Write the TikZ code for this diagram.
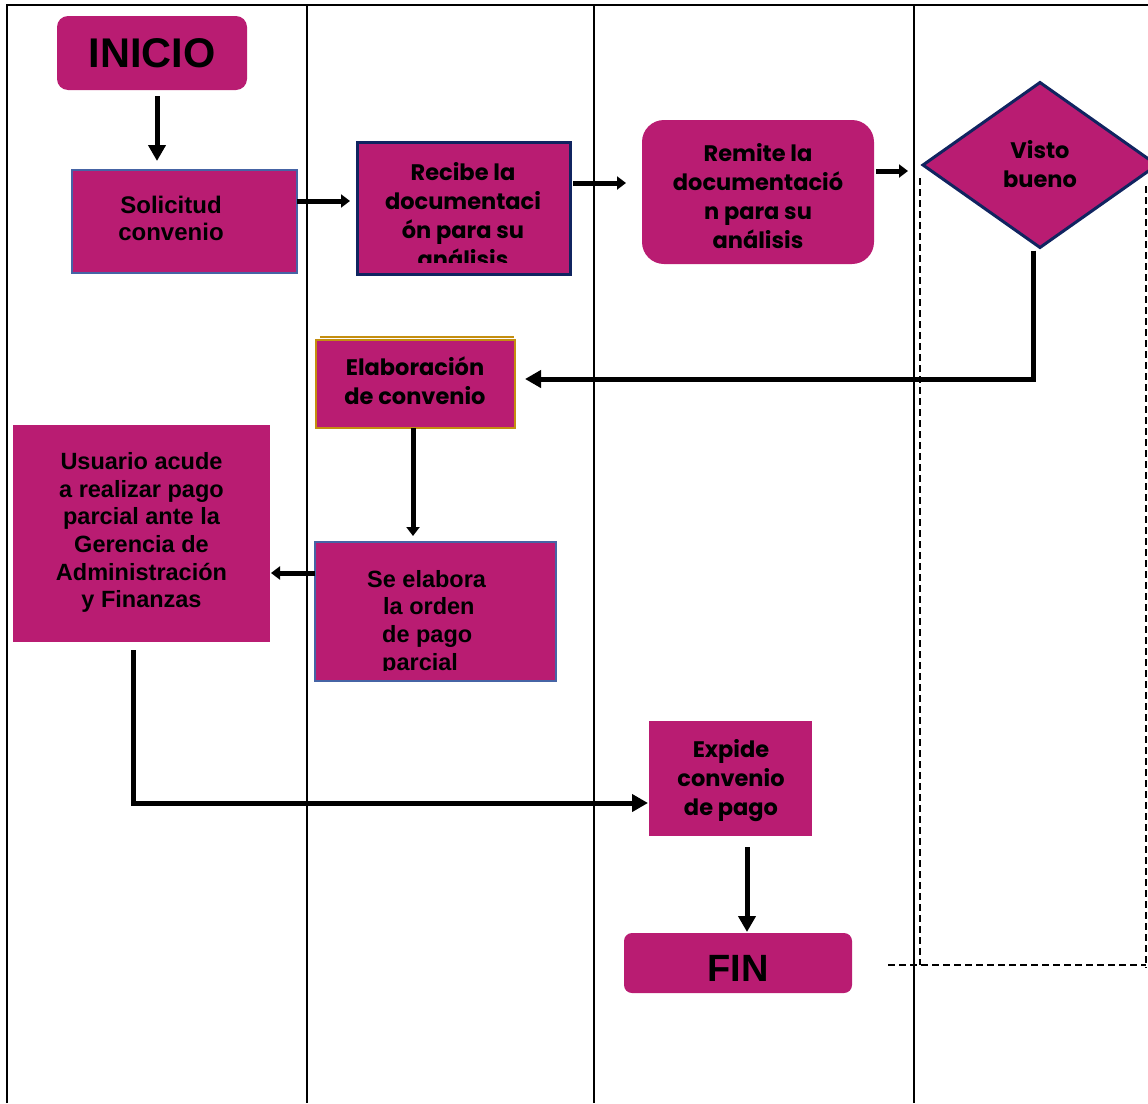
\documentclass[tikz,border=0pt]{standalone}
\usepackage{fontspec}
\setmainfont{Liberation Sans}
\newfontfamily\gothic{Poppins}
\usetikzlibrary{shapes.geometric,arrows.meta,calc}
\definecolor{mag}{RGB}{185,28,114}
\definecolor{navy}{RGB}{16,36,96}
\definecolor{bluebd}{RGB}{70,100,165}
\definecolor{gold}{RGB}{196,142,16}
\begin{document}
\begin{tikzpicture}[x=1pt,y=-1pt,
  box/.style={fill=mag,inner sep=0pt,outer sep=0pt},
  gtxt/.style={align=center,font=\gothic\bfseries\fontsize{22.5}{29}\selectfont,inner sep=0pt},
  atxt/.style={align=center,font=\bfseries\fontsize{23.5}{27.7}\selectfont,inner sep=0pt},
  arr/.style={line width=5pt,-{Triangle[length=16pt,width=17pt]}},
  arrs/.style={line width=5pt,-{Triangle[length=9pt,width=13pt]}},
  lane/.style={line width=2pt},
  dsh/.style={line width=2pt,dash pattern=on 7pt off 4pt}]
\useasboundingbox (0,0) rectangle (1148,1103);
% swimlanes
\draw[lane] (7,1103) -- (7,5) -- (1148,5);
\draw[lane] (307,5) -- (307,1103);
\draw[lane] (594,5) -- (594,1103);
\draw[lane] (914,5) -- (914,1103);
% dashed frame
\draw[dsh] (920,178) -- (920,965);
\draw[dsh] (1146,186) -- (1146,968);
\draw[dsh] (888,965) -- (1146,965);

% INICIO
\node[box,rounded corners=11pt,minimum width=190pt,minimum height=74pt,
      font=\bfseries\fontsize{41.5}{41.5}\selectfont] (ini) at (152,53) {INICIO};
% Solicitud
\node[box,draw=bluebd,line width=1.8pt,minimum width=225pt,minimum height=103pt] (sol) at (184.5,221.5) {};
\node[atxt,font=\bfseries\fontsize{24}{27}\selectfont] (solT) at (171,218) {Solicitud\\convenio};
% Recibe
\node[box,draw=navy,line width=3pt,minimum width=213pt,minimum height=132pt] (rec) at (463.5,208) {};
\begin{scope}
  \clip (359,144) rectangle (568,262);
  \node[gtxt] (recT) at (463,215.5) {Recibe la\\documentaci\\ón para su\\análisis};
\end{scope}
% Remite
\node[box,rounded corners=22pt,minimum width=232pt,minimum height=144pt] (rem) at (758,192) {};
\node[gtxt] (remT) at (758,196) {Remite la\\documentació\\n para su\\análisis};
% Visto bueno
\node[box,diamond,draw=navy,line width=3pt,minimum width=234pt,minimum height=165pt] (vis) at (1040,165) {};
\node[gtxt] (visT) at (1040,164.5) {Visto\\bueno};
% Elaboracion
\draw[gold,line width=1.5pt] (320,337) -- (514,337);
\node[box,draw=gold,line width=2.5pt,minimum width=199pt,minimum height=88pt] (ela) at (415.5,384) {};
\node[gtxt] (elaT) at (415,381) {Elaboración\\de convenio};
% Usuario
\node[box,minimum width=257pt,minimum height=217pt] (usu) at (141.5,533.5) {};
\node[atxt] (usuT) at (141.5,532.5) {Usuario acude\\a realizar pago\\parcial ante la\\Gerencia de\\Administración\\y Finanzas};
% Se elabora
\node[box,draw=bluebd,line width=1.8pt,minimum width=241pt,minimum height=139pt] (sel) at (435.5,611.5) {};
\begin{scope}
  \clip (316,543) rectangle (555,670);
  \node[atxt,align=left,anchor=north west] (selT) at (367,570) {Se elabora\\\hspace*{16pt}la orden\\\hspace*{15pt}de pago\\\hspace*{15pt}parcial};
\end{scope}
% Expide
\node[box,minimum width=163pt,minimum height=115pt] (exp) at (730.5,778.5) {};
\node[gtxt] (expT) at (731,780.5) {Expide\\convenio\\de pago};
% FIN
\node[box,rounded corners=8pt,minimum width=228pt,minimum height=60pt] (fin) at (738,963) {};
\node[font=\bfseries\fontsize{38}{38}\selectfont,inner sep=0pt] (finT) at (738,968.5) {FIN};

% connectors
\draw[arr]  ($(ini.south)+(5,6)$) -- ($(sol.north)+(-27.5,-9)$);
\draw[arrs] ($(sol.east)+(0,-20.5)$) -- ($(rec.west)+(-7,-7)$);
\draw[arrs] ($(rec.east)+(3,-25)$) -- ($(rem.west)+(-16,-9)$);
\draw[arrs] ($(rem.east)+(2,-21)$) -- ($(vis.west)+(-15,6)$);
\draw[arr]  ($(vis.south)+(-7,3)$) |- ($(ela.east)+(10,-5)$);
\draw[arrs] ($(ela.south)+(-2.5,0)$) -- ($(sel.north)+(-22.5,-6)$);
\draw[arrs] ($(sel.west)+(0,-38.5)$) -- ($(usu.east)+(1,39.5)$);
\draw[arr]  ($(usu.south)+(-8.5,8)$) |- ($(exp.west)+(-1,24.5)$);
\draw[arr]  ($(exp.south)+(16.5,11)$) -- ($(fin.north)+(9,-1)$);
\end{tikzpicture}
\end{document}
